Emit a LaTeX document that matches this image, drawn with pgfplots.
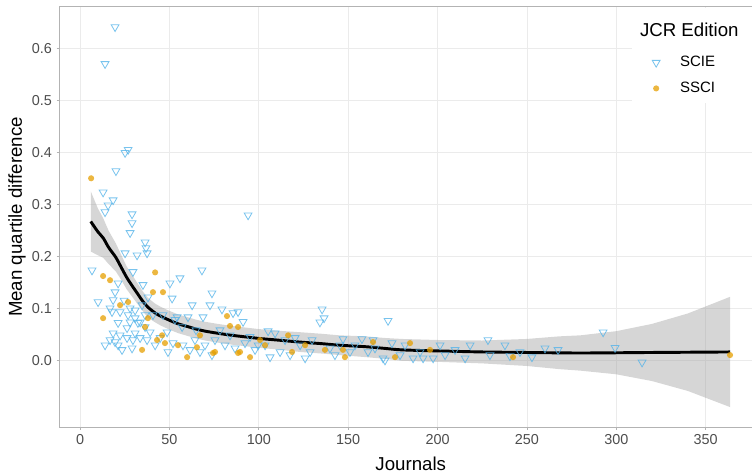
\documentclass[border=0pt]{standalone}
\usepackage{fontspec}
\setmainfont{Liberation Sans}
\usepackage{pgfplots}
\pgfplotsset{compat=1.18}
\definecolor{scie}{HTML}{56B4E9}
\definecolor{ssci}{HTML}{E69F00}
\definecolor{gridc}{HTML}{EBEBEB}
\definecolor{framec}{HTML}{B3B3B3}
\definecolor{tickc}{HTML}{4D4D4D}

\begin{document}
\begin{tikzpicture}
\begin{axis}[
  name=ax,
  scale only axis, width=527.2pt, height=315.5pt,
  xmin=-11.6, xmax=381.6, ymin=-0.128, ymax=0.681,
  xtick={0,50,...,350}, ytick={0,0.1,0.2,0.3,0.4,0.5,0.6},
  yticklabel style={/pgf/number format/.cd, fixed, fixed zerofill, precision=1},
  /pgf/number format/assume math mode=true,
  ticklabel style={font=\fontsize{10.8}{13}\selectfont, text=tickc},
  tick align=outside, major tick length=2pt,
  xtick pos=bottom, ytick pos=left,
  tick style={framec, line width=0.6pt},
  axis line style={framec, line width=0.6pt},
  grid=major, grid style={gridc, line width=0.6pt},
  xlabel={Journals}, ylabel={Mean quartile difference},
  label style={font=\fontsize{14}{16}\selectfont},
  xlabel style={at={(axis description cs:0.5,0)}, anchor=base, yshift=-32pt},
  ylabel style={at={(axis description cs:-0.0602,0.5)}, anchor=center},
  legend style={at={(rel axis cs:0.8375,0.8364)}, anchor=west, draw=none, fill=none,
    font=\fontsize{11.25}{13}\selectfont, row sep=6pt, inner sep=3pt,
    /tikz/every odd column/.append style={column sep=13pt}},
  legend cell align=left,
]

% SCIE journals
\addplot[only marks, color=scie, mark=triangle, mark size=3.4pt,
  mark options={rotate=180, draw=scie, fill=none, draw opacity=0.8, line width=0.6pt}]
coordinates {
(19.6,0.642)(14.0,0.571)(25.2,0.400)(26.9,0.406)(20.1,0.365)(12.9,0.324)(18.5,0.309)
(15.7,0.299)(14.0,0.286)(29.1,0.282)(29.1,0.265)(28.0,0.246)(36.4,0.228)(36.9,0.217)
(25.2,0.207)(31.9,0.203)(37.5,0.207)(94.0,0.280)(6.7,0.174)(29.6,0.171)(68.2,0.174)
(21.3,0.149)(19.6,0.132)(18.5,0.117)(10.1,0.113)(16.8,0.101)(17.9,0.094)(28.0,0.101)
(30.8,0.097)(26.9,0.088)(30.8,0.082)(28.0,0.074)(32.4,0.073)(21.3,0.073)(26.3,0.063)
(18.5,0.053)(22.4,0.049)(26.3,0.044)(30.8,0.053)(33.6,0.044)(14.0,0.030)(19.6,0.036)
(23.5,0.021)(29.1,0.024)(35.2,0.146)(38.0,0.122)(40.8,0.088)(36.4,0.065)(50.3,0.149)
(55.9,0.159)(51.5,0.120)(46.4,0.088)(54.3,0.084)(57.1,0.065)(48.7,0.055)(52.0,0.034)
(57.6,0.030)(61.5,0.021)(62.7,0.107)(60.4,0.084)(39.2,0.055)(73.8,0.130)(72.7,0.107)
(79.4,0.099)(88.4,0.094)(68.8,0.084)(91.2,0.075)(85.6,0.092)(64.3,0.040)(69.9,0.030)
(75.5,0.040)(81.1,0.030)(86.7,0.024)(92.3,0.034)(97.9,0.021)(103.5,0.030)(106.3,0.007)
(111.9,0.017)(114.7,0.040)(117.5,0.011)(105.2,0.057)(109.1,0.053)(135.4,0.099)(134.2,0.074)
(136.5,0.082)(147.1,0.042)(157.7,0.042)(163.9,0.040)(174.5,0.034)(170.6,0.001)(123.1,0.030)
(128.7,0.017)(139.8,0.024)(151.0,0.017)(153.8,0.030)(125.9,0.005)(142.6,0.011)(172.3,0.077)
(169.5,0.005)(186.3,0.005)(191.9,0.005)(197.5,0.005)(228.2,0.040)(229.3,0.011)(252.8,0.007)
(267.4,0.021)(179.0,0.011)(204.2,0.011)(215.4,0.005)(240.5,0.009)(292.6,0.055)(299.3,0.025)
(314.4,-0.003)(24.6,0.116)(34.7,0.107)(22.4,0.094)(36.4,0.088)(33.6,0.074)(29.6,0.040)
(16.8,0.040)(21.3,0.030)(37.5,0.040)(42.0,0.030)(44.8,0.044)(49.2,0.017)(53.1,0.079)
(64.9,0.059)(67.1,0.017)(73.8,0.011)(78.3,0.059)(83.9,0.049)(95.1,0.046)(99.6,0.030)
(120.3,0.044)(129.8,0.040)(145.4,0.030)(161.1,0.017)(165.0,0.024)(181.8,0.030)(190.2,0.017)
(209.8,0.021)(218.2,0.030)(237.7,0.030)(246.1,0.017)(260.1,0.024)(201.4,0.030)
};
\addlegendentry{SCIE}

% SSCI journals
\addplot[only marks, color=ssci, mark=*, mark size=2.3pt,
  mark options={draw=ssci, fill=ssci, draw opacity=0, fill opacity=0.75}]
coordinates {
(6.2,0.351)(12.9,0.163)(16.8,0.155)(42.0,0.170)(40.8,0.132)(46.4,0.132)(26.9,0.113)
(12.9,0.082)(34.7,0.021)(36.4,0.065)(43.1,0.040)(47.5,0.034)(45.9,0.049)(59.9,0.007)
(74.4,0.015)(65.4,0.026)(82.2,0.086)(83.9,0.067)(88.4,0.065)(89.5,0.017)(95.1,0.007)
(75.5,0.017)(88.4,0.015)(103.5,0.030)(116.4,0.049)(118.6,0.017)(137.0,0.021)(148.2,0.007)
(147.1,0.021)(163.9,0.036)(176.2,0.007)(184.6,0.034)(242.2,0.007)(363.6,0.011)(54.8,0.030)
(38.0,0.082)(67.1,0.049)(22.4,0.107)(100.7,0.040)(125.9,0.030)(195.8,0.021)
};
\addlegendentry{SSCI}

% confidence band of the smooth
\addplot[draw=none, fill=black!40, fill opacity=0.4, forget plot] coordinates {
(6,0.326)(10,0.293)(13,0.274)(16,0.250)(20,0.226)(23,0.204)(26,0.182)(29,0.166)(32,0.150)
(35,0.134)(38,0.121)(42,0.110)(45,0.104)(50,0.096)(55,0.089)(60,0.084)(65,0.079)(70,0.075)
(77,0.071)(85,0.067)(95,0.063)(100,0.061)(110,0.058)(123,0.055)(135,0.052)(145,0.049)
(160,0.047)(170,0.044)(180,0.042)(200,0.040)(225,0.039)(250,0.042)(268,0.047)(280,0.049)
(300,0.057)(320,0.071)(340,0.091)(363.6,0.123)
(363.6,-0.089)(340,-0.058)(320,-0.039)(300,-0.026)(280,-0.019)(268,-0.016)(250,-0.010)
(225,-0.005)(200,-0.002)(180,0.000)(170,0.004)(160,0.007)(145,0.011)(135,0.014)(123,0.017)
(110,0.022)(100,0.025)(95,0.027)(85,0.031)(77,0.035)(70,0.039)(65,0.043)(60,0.048)(55,0.053)
(50,0.060)(45,0.068)(42,0.074)(38,0.083)(35,0.096)(32,0.110)(29,0.124)(26,0.138)(23,0.156)
(20,0.172)(16,0.186)(13,0.198)(10,0.203)(6,0.210)
} -- cycle;

% smooth fit
\addplot[black, line width=2.2pt, smooth, forget plot] coordinates {
(6,0.268)(10,0.248)(13,0.236)(16,0.218)(20,0.199)(23,0.180)(26,0.161)(29,0.145)(32,0.130)
(35,0.115)(38,0.103)(42,0.092)(45,0.086)(50,0.078)(55,0.071)(60,0.066)(65,0.061)(70,0.057)
(77,0.053)(85,0.049)(95,0.045)(100,0.043)(110,0.040)(123,0.036)(135,0.033)(145,0.030)
(160,0.027)(170,0.024)(180,0.021)(200,0.019)(225,0.017)(250,0.016)(280,0.015)(320,0.016)
(363.6,0.017)
};

% legend background and title
\fill[white] (rel axis cs:0.8148,0.771) rectangle (rel axis cs:1,0.997);
\node[anchor=west, font=\fontsize{14}{16}\selectfont] at (rel axis cs:0.8195,0.9446) {JCR Edition};
\end{axis}
\pgfresetboundingbox
\path[use as bounding box] ([shift={(-44.475pt,-35.775pt)}]ax.south west)
  rectangle ([shift={(-7.65pt,5.025pt)}]ax.north east);
\end{tikzpicture}
\end{document}
